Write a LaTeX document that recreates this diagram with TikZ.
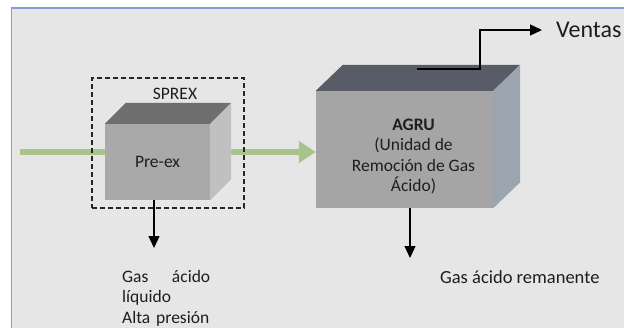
\documentclass[tikz,border=0pt]{standalone}
\usepackage{fontspec}
\setmainfont{Carlito}
\usetikzlibrary{arrows.meta,backgrounds}

\definecolor{bgray}{HTML}{E6E6E6}
\definecolor{frameblue}{HTML}{7EA0D3}
\definecolor{feedgreen}{HTML}{A9C38C}
\definecolor{txtdark}{HTML}{1E1E1E}
\definecolor{pxtop}{HTML}{6E6E6E}
\definecolor{pxfront}{HTML}{A9A9A9}
\definecolor{pxside}{HTML}{C0C0C0}
\definecolor{agtop}{HTML}{575C66}
\definecolor{agfront}{HTML}{A5A5A5}
\definecolor{agside}{HTML}{9AA5B0}

\begin{document}
\begin{tikzpicture}[x=1pt,y=-1pt]
\tikzstyle{face}=[
  draw=none,
  inner sep=0pt,
  align=center,
  text=txtdark,
  font=\fontsize{17.5}{20.5}\selectfont ]
\tikzstyle{lbl}=[inner sep=0pt, text=txtdark, font=\fontsize{17.5}{20.5}\selectfont]
\tikzstyle{flow}=[line width=1.3pt, -{Triangle[length=12pt,width=11pt]}]
\tikzstyle{feed}=[line width=6pt, draw=feedgreen, -{Triangle[length=17pt,width=21pt]}]
\tikzstyle{dashbox}=[draw=black!85, line width=1.3pt, dash pattern=on 5pt off 3pt]

\useasboundingbox (0,0) rectangle (624,327);

% units
\node[dashbox, minimum width=152pt, minimum height=130pt] (sprex) at (168,143) {};
\node[lbl] (sprexlbl) at (175,94) {SPREX};
\node[face, fill=pxfront, minimum width=105pt, minimum height=76pt] (preex) at (157.5,162) {Pre-ex};
\fill[pxtop] (preex.north west) -- ++(21,-21) -- ([shift={(21,-21)}]preex.north east)
  -- (preex.north east) -- cycle;
\fill[pxside] (preex.north east) -- ++(21,-21) -- ([shift={(21,-21)}]preex.south east)
  -- (preex.south east) -- cycle;

\node[face, fill=agfront, minimum width=177pt, minimum height=117pt] (agru) at (404.5,149.5) {};
\fill[agtop] (agru.north west) -- ++(27,-26) -- ([shift={(27,-26)}]agru.north east)
  -- (agru.north east) -- cycle;
\fill[agside] (agru.north east) -- ++(27,-26) -- ([shift={(27,-26)}]agru.south east)
  -- (agru.south east) -- cycle;
\node[face] (agrutxt) at ([shift={(9,7)}]agru.center)
  {\textbf{AGRU}\\(Unidad de\\Remoción de Gas\\Ácido)};

% outputs
\node[lbl, anchor=west, font=\fontsize{24}{27}\selectfont] (ventas) at (556,30) {Ventas};
\node[lbl, anchor=north west, text width=88pt, align=left] (liquido) at (122,270)
  {Gas\hfill ácido\\líquido\\Alta presión};
\node[lbl, anchor=west, font=\fontsize{18.5}{21}\selectfont] (remanente) at (440,277) {Gas ácido remanente};

\coordinate (liqend) at (154,248);
\coordinate (remend) at (410,258);
\coordinate (gasout) at (417,69);

\draw[flow] (liqend |- preex.south) -- (liqend);
\draw[flow] (remend |- agru.south) -- (remend);
\draw[flow, shorten >=14pt] (gasout) -| ([xshift=-76pt]ventas.west) -- (ventas.west);

\begin{pgfonlayer}{background}
\fill[white] (0,0) rectangle (624,327);
\draw[draw=frameblue, fill=bgray, line width=1.6pt] (11.5,8) rectangle (640,340);
\coordinate (feedin) at (20,152);
\draw[feed] (feedin) -- (feedin -| agru.west);
\end{pgfonlayer}
\end{tikzpicture}
\end{document}
